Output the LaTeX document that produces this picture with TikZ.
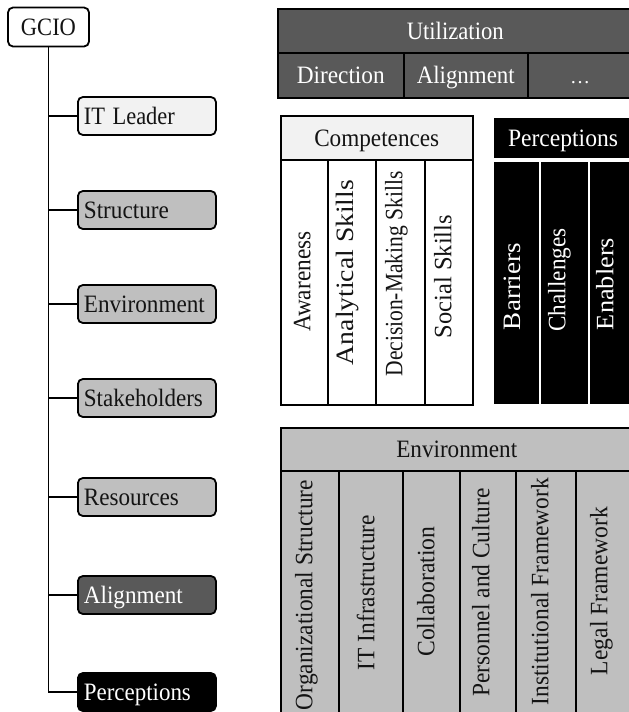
\documentclass[tikz,border=0pt]{standalone}
\usepackage{graphicx}
\usepackage{fontspec}
\setmainfont{Liberation Serif}
\newfontfamily\labelfont{Liberation Serif}
\definecolor{lightfill}{HTML}{F2F2F2}
\definecolor{midfill}{HTML}{BFBFBF}
\definecolor{darkfill}{HTML}{595959}
\definecolor{inkdark}{HTML}{141414}
\definecolor{inklight}{HTML}{FFFFFF}
% set a label to a given run length, keeping its height
\newcommand{\fitto}[2]{\resizebox{#1}{\height}{#2}}
\begin{document}
\begin{tikzpicture}[x=1pt,y=-1pt,
  every node/.style={font=\labelfont\fontsize{25}{30}\selectfont, inner sep=0pt,
    text=inkdark, text height=16.5pt, text depth=0pt},
  rootbox/.style={draw=black, line width=1.8pt, rounded corners=5pt, fill=white,
    minimum width=81pt, minimum height=39pt},
  leaf/.style={draw=black, line width=1.8pt, rounded corners=5pt,
    minimum width=138pt, minimum height=38pt, anchor=west,
    text width=126pt, align=left},
  branch/.style={line width=1.7pt, draw=black},
  cell/.style={draw=black, line width=1.5pt, anchor=north west},
  pcell/.style={draw=white, line width=2pt, fill=black, text=inklight, anchor=north west},
  vert/.style={rotate=90}
]
\useasboundingbox (0,0) rectangle (629,712);

% ---------- tree of roles ----------
\node[rootbox] (gcio) at (48.5,27) {\fitto{55pt}{GCIO}};
\node[leaf, fill=lightfill] (itl) at (77,116) {\fitto{91pt}{IT Leader}};
\node[leaf, fill=midfill] (str) at (77,210) {\fitto{85pt}{Structure}};
\node[leaf, fill=midfill] (env) at (77,304) {\fitto{121pt}{Environment}};
\node[leaf, fill=midfill] (stk) at (77,398) {\fitto{119pt}{Stakeholders}};
\node[leaf, fill=midfill] (res) at (77,497) {\fitto{95pt}{Resources}};
\node[leaf, fill=darkfill, text=inklight] (ali) at (77,595) {\fitto{99pt}{Alignment}};
\node[leaf, fill=black, text=inklight] (per) at (77,692) {\fitto{107pt}{Perceptions}};

\draw[branch] (gcio.south) -- (gcio.south |- per.west) -- (per.west);
\foreach \n in {itl,str,env,stk,res,ali}
  \draw[branch] (gcio.south |- \n.west) -- (\n.west);

% ---------- Utilization ----------
\node[cell, fill=darkfill, text=inklight, minimum width=355pt, minimum height=44pt] (uhead) at (277,8) {\fitto{97pt}{Utilization}};
\node[cell, fill=darkfill, text=inklight, minimum width=126pt, minimum height=45pt] (udir) at (277,52) {\fitto{88pt}{Direction}};
\node[cell, fill=darkfill, text=inklight, minimum width=124pt, minimum height=45pt] (ualign) at (403,52) {\fitto{98pt}{Alignment}};
\node[cell, fill=darkfill, minimum width=105pt, minimum height=45pt] (umore) at (527,52) {};
\node[text=inklight, anchor=base, text height=0pt] (udots) at (580,83) {\resizebox{20pt}{!}{…}};

% ---------- Competences ----------
\node[cell, fill=lightfill, minimum width=192pt, minimum height=44pt] (chead) at (280,115) {\fitto{125pt}{Competences}};
\node[cell, fill=white, minimum width=47pt, minimum height=245pt] (caw) at (280,159) {};
\node[cell, fill=white, minimum width=48pt, minimum height=245pt] (can) at (327,159) {};
\node[cell, fill=white, minimum width=49pt, minimum height=245pt] (cdm) at (375,159) {};
\node[cell, fill=white, minimum width=48pt, minimum height=245pt] (cso) at (424,159) {};
\node[vert] (tcaw) at (302,281.5) {\fitto{100pt}{Awareness}};
\node[vert] (tcan) at (345,272.5) {\fitto{185pt}{Analytical Skills}};
\node[vert] (tcdm) at (394,274) {\fitto{205pt}{Decision-Making Skills}};
\node[vert] (tcso) at (443,276.5) {\fitto{123pt}{Social Skills}};

% ---------- Perceptions ----------
\node[pcell, minimum width=140pt, minimum height=42pt] (phead) at (492,116) {\fitto{110pt}{Perceptions}};
\node[pcell, minimum width=47pt, minimum height=244pt] (pbar) at (492,160) {};
\node[pcell, minimum width=49pt, minimum height=244pt] (pcha) at (539,160) {};
\node[pcell, minimum width=44pt, minimum height=244pt] (pena) at (588,160) {};
\node[vert, text=inklight] (tpbar) at (512,286.5) {\fitto{87pt}{Barriers}};
\node[vert, text=inklight] (tpcha) at (557,280) {\fitto{103pt}{Challenges}};
\node[vert, text=inklight] (tpena) at (605,284) {\fitto{92pt}{Enablers}};

% ---------- Environment ----------
\node[cell, fill=midfill, minimum width=352pt, minimum height=43pt] (ehead) at (280,427) {\fitto{121pt}{Environment}};
\node[cell, fill=midfill, minimum width=58pt, minimum height=244pt] (eorg) at (280,470) {};
\node[cell, fill=midfill, minimum width=64pt, minimum height=244pt] (eit) at (338,470) {};
\node[cell, fill=midfill, minimum width=57pt, minimum height=244pt] (ecol) at (402,470) {};
\node[cell, fill=midfill, minimum width=56pt, minimum height=244pt] (epc) at (459,470) {};
\node[cell, fill=midfill, minimum width=60pt, minimum height=244pt] (einst) at (515,470) {};
\node[cell, fill=midfill, minimum width=57pt, minimum height=244pt] (elegal) at (575,470) {};
\node[vert] (teorg) at (304,595) {\fitto{230pt}{Organizational Structure}};
\node[vert] (teit) at (366,592.5) {\fitto{155pt}{IT Infrastructure}};
\node[vert] (tecol) at (426,591.7) {\fitto{130pt}{Collaboration}};
\node[vert] (tepc) at (481,592.5) {\fitto{208pt}{Personnel and Culture}};
\node[vert] (teinst) at (540,591.7) {\fitto{227pt}{Institutional Framework}};
\node[vert] (telegal) at (599,591) {\fitto{168pt}{Legal Framework}};
\end{tikzpicture}
\end{document}
